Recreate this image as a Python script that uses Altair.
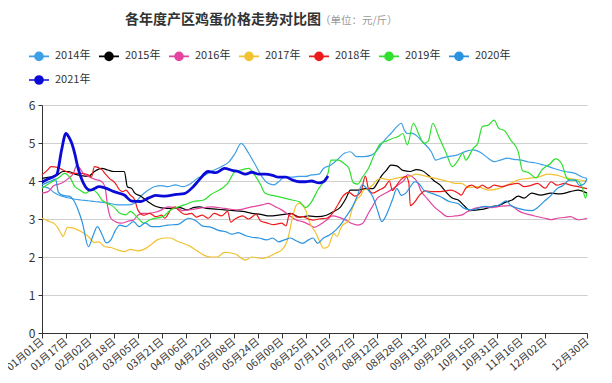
import altair as alt
import pandas as pd

FONT = "Noto Sans CJK SC"
TITLE = "各年度产区鸡蛋价格走势对比图"
UNIT = "（单位：元/斤）"

YEARS = ["2014年", "2015年", "2016年", "2017年", "2018年", "2019年", "2020年", "2021年"]
COLORS = ["#3d9fe6", "#000000", "#e2449f", "#f2c232", "#ec1c1c", "#2fe02f", "#2a93e0", "#0b0bd8"]

# (day of year index, price in 元/斤)
S2014 = [(0, 3.85), (4, 3.82), (8, 3.70), (12, 3.62), (17, 3.56), (22, 3.52), (26, 3.50), (31, 3.48), (35, 3.46),
         (40, 3.44), (44, 3.42), (49, 3.38), (53, 3.37), (58, 3.37), (62, 3.42), (66, 3.60), (71, 3.76), (75, 3.85),
         (80, 3.88), (84, 3.85), (89, 3.90), (94, 3.85), (98, 3.90), (104, 4.07), (109, 4.16), (113, 4.25), (120, 4.38),
         (125, 4.51), (129, 4.73), (133, 4.99), (138, 4.73), (142, 4.46), (147, 4.11), (151, 3.94), (155, 3.90),
         (158, 3.98), (162, 4.10), (167, 4.10), (171, 4.12), (176, 4.12), (180, 4.16), (185, 4.18), (188, 4.33),
         (193, 4.42), (197, 4.55), (202, 4.73), (206, 4.77), (210, 4.64), (215, 4.64), (220, 4.68), (224, 4.82),
         (227, 4.99), (231, 5.17), (233, 5.25), (237, 5.43), (240, 5.52), (242, 5.34), (244, 5.25), (247, 5.26),
         (250, 5.20), (255, 5.00), (260, 4.77), (263, 4.55), (267, 4.60), (271, 4.64), (277, 4.68), (283, 4.78),
         (288, 4.82), (293, 4.75), (298, 4.60), (302, 4.51), (306, 4.55), (311, 4.60), (315, 4.57), (320, 4.55),
         (325, 4.50), (329, 4.48), (335, 4.42), (342, 4.33), (349, 4.25), (356, 4.20), (360, 4.12), (364, 4.07)]
S2015 = [(0, 4.07), (5, 4.10), (10, 4.15), (14, 4.25), (18, 4.25), (22, 4.18), (26, 4.14), (31, 4.12), (35, 4.25),
         (40, 4.33), (44, 4.29), (48, 4.25), (55, 4.25), (57, 3.85), (60, 3.80), (62, 3.68), (66, 3.60), (71, 3.45),
         (75, 3.35), (79, 3.30), (83, 3.28), (88, 3.28), (92, 3.30), (97, 3.24), (101, 3.30), (105, 3.32), (110, 3.28),
         (116, 3.26), (122, 3.24), (128, 3.22), (134, 3.20), (140, 3.15), (146, 3.12), (152, 3.08), (158, 3.10),
         (162, 3.12), (166, 3.15), (172, 3.05), (178, 3.08), (184, 3.06), (190, 3.10), (195, 3.20), (199, 3.30),
         (203, 3.54), (206, 3.76), (211, 3.76), (216, 3.80), (221, 3.80), (224, 3.95), (227, 4.15), (230, 4.28),
         (233, 4.42), (237, 4.40), (241, 4.28), (246, 4.25), (250, 4.30), (254, 4.27), (258, 4.15), (262, 4.00),
         (266, 3.89), (270, 3.70), (274, 3.55), (278, 3.50), (282, 3.35), (286, 3.22), (291, 3.24), (295, 3.26),
         (300, 3.32), (306, 3.37), (310, 3.45), (314, 3.50), (318, 3.60), (322, 3.55), (327, 3.68), (333, 3.63),
         (340, 3.68), (346, 3.66), (353, 3.72), (358, 3.76), (364, 3.68)]
S2016 = [(0, 3.68), (4, 3.72), (8, 3.88), (13, 3.94), (17, 4.05), (21, 4.20), (23, 4.40), (25, 4.35), (28, 4.18),
         (31, 4.12), (35, 4.05), (40, 3.98), (42, 3.85), (44, 3.30), (46, 3.02), (49, 2.93), (53, 2.89), (58, 2.95),
         (61, 2.97), (64, 3.10), (67, 3.15), (71, 3.15), (75, 3.17), (80, 3.24), (84, 3.32), (89, 3.30), (94, 3.22),
         (98, 3.24), (105, 3.28), (113, 3.32), (122, 3.28), (131, 3.24), (140, 3.32), (147, 3.37), (151, 3.41),
         (156, 3.32), (160, 3.24), (165, 3.10), (170, 2.97), (174, 2.93), (178, 2.86), (182, 2.78), (186, 2.86),
         (190, 2.97), (194, 3.08), (198, 3.05), (203, 2.97), (207, 2.88), (211, 2.84), (214, 2.88), (218, 3.15),
         (221, 3.35), (224, 3.55), (228, 3.65), (233, 3.76), (238, 3.90), (242, 4.03), (244, 4.16), (247, 4.12),
         (251, 3.95), (253, 3.75), (257, 3.55), (262, 3.32), (266, 3.19), (271, 3.06), (276, 3.08), (280, 3.10),
         (284, 3.19), (289, 3.28), (295, 3.32), (300, 3.30), (307, 3.34), (313, 3.35), (318, 3.22), (322, 3.15),
         (327, 3.10), (331, 3.06), (336, 3.02), (340, 2.98), (344, 3.02), (349, 3.04), (353, 3.06), (358, 2.98),
         (364, 3.02)]
S2017 = [(0, 3.02), (4, 2.95), (9, 2.85), (13, 2.60), (14, 2.54), (17, 2.78), (21, 2.76), (26, 2.67), (31, 2.54),
         (35, 2.38), (38, 2.40), (42, 2.27), (46, 2.25), (51, 2.18), (55, 2.14), (59, 2.20), (64, 2.16), (68, 2.20),
         (72, 2.30), (77, 2.45), (82, 2.50), (86, 2.50), (90, 2.42), (95, 2.35), (99, 2.28), (104, 2.15), (108, 2.05),
         (113, 2.00), (117, 2.00), (122, 2.12), (129, 2.08), (136, 1.92), (140, 2.00), (147, 1.96), (151, 2.00),
         (156, 2.10), (160, 2.18), (164, 2.45), (166, 2.80), (168, 3.15), (170, 3.37), (172, 3.41), (176, 3.24),
         (179, 2.89), (183, 2.62), (186, 2.36), (188, 2.23), (191, 2.27), (195, 2.62), (197, 2.54), (200, 2.80),
         (205, 2.97), (207, 3.24), (210, 3.50), (213, 3.63), (215, 3.76), (218, 3.80), (221, 3.90), (224, 4.03),
         (227, 4.07), (232, 4.03), (236, 4.07), (241, 4.10), (245, 4.11), (250, 4.18), (254, 4.15), (258, 4.11),
         (263, 4.07), (267, 4.03), (272, 3.98), (276, 3.94), (280, 3.94), (285, 3.83), (291, 3.85), (298, 3.76),
         (305, 3.80), (312, 3.92), (318, 4.03), (325, 4.07), (332, 4.11), (338, 4.18), (343, 4.16), (350, 4.08),
         (357, 4.04), (364, 4.00)]
S2018 = [(0, 4.16), (4, 4.30), (6, 4.38), (11, 4.35), (16, 4.25), (20, 4.20), (26, 4.20), (31, 4.16), (33, 4.10),
         (35, 4.38), (40, 4.30), (42, 4.20), (45, 4.07), (49, 3.94), (52, 3.76), (54, 3.72), (56, 3.76), (59, 3.63),
         (62, 3.50), (64, 3.24), (68, 3.10), (72, 3.15), (76, 3.06), (80, 3.10), (82, 3.02), (86, 3.24), (89, 3.32),
         (91, 3.24), (96, 3.12), (100, 3.15), (103, 3.05), (107, 3.10), (111, 3.02), (115, 3.15), (120, 3.08),
         (124, 3.20), (126, 2.92), (129, 3.00), (134, 3.08), (138, 3.00), (143, 3.12), (146, 2.95), (150, 2.90),
         (155, 2.85), (160, 2.89), (163, 2.82), (165, 3.10), (167, 3.15), (170, 3.05), (174, 3.06), (178, 3.00),
         (181, 2.97), (185, 3.00), (190, 3.02), (194, 3.15), (198, 3.40), (201, 3.60), (205, 3.70), (209, 3.60),
         (213, 3.72), (216, 4.13), (218, 3.80), (221, 3.68), (225, 3.76), (229, 3.85), (232, 4.00), (234, 3.75),
         (237, 3.90), (240, 4.05), (243, 4.12), (245, 3.95), (246, 3.35), (249, 3.45), (252, 3.62), (256, 3.74),
         (261, 3.72), (266, 3.72), (273, 3.76), (278, 3.68), (280, 3.63), (283, 3.81), (287, 3.89), (291, 3.81),
         (294, 3.89), (298, 3.81), (302, 3.89), (307, 3.85), (311, 3.89), (318, 3.94), (322, 3.85), (327, 3.89),
         (331, 3.94), (336, 3.81), (340, 3.98), (344, 3.89), (349, 3.94), (353, 3.89), (358, 3.85), (364, 3.80)]
S2019 = [(0, 3.81), (5, 3.94), (12, 4.11), (15, 4.20), (19, 4.07), (22, 3.85), (25, 3.77), (29, 3.68), (33, 3.77),
         (37, 3.68), (40, 3.50), (43, 3.42), (48, 3.32), (52, 3.15), (56, 3.11), (59, 3.20), (63, 3.07), (68, 2.89),
         (72, 2.98), (81, 3.07), (86, 3.24), (91, 3.32), (95, 3.37), (101, 3.46), (108, 3.50), (113, 3.65), (120, 3.80),
         (124, 3.94), (129, 4.25), (134, 4.30), (138, 4.33), (142, 4.16), (146, 3.90), (149, 3.68), (154, 3.62),
         (158, 3.59), (162, 3.55), (167, 3.50), (172, 3.45), (176, 3.30), (180, 3.45), (184, 3.75), (188, 3.98),
         (191, 4.20), (193, 4.55), (198, 4.55), (202, 4.45), (205, 4.33), (208, 3.95), (211, 3.92), (214, 4.10),
         (218, 4.33), (222, 4.70), (226, 4.98), (230, 5.05), (234, 5.12), (238, 5.17), (241, 5.25), (244, 4.95),
         (248, 5.52), (252, 5.20), (255, 4.99), (258, 5.05), (261, 5.52), (265, 5.17), (270, 4.73), (274, 4.38),
         (278, 4.55), (281, 4.73), (283, 4.55), (288, 4.86), (291, 4.99), (294, 5.43), (298, 5.47), (302, 5.60),
         (305, 5.39), (309, 5.32), (313, 5.08), (318, 4.78), (321, 4.27), (325, 4.22), (330, 4.08), (334, 4.30),
         (339, 4.44), (343, 4.58), (347, 4.46), (351, 4.05), (355, 4.02), (358, 4.00), (361, 3.80), (363, 3.55),
         (364, 3.68)]
S2020 = [(0, 3.90), (3, 3.95), (6, 4.00), (9, 4.05), (11, 3.70), (14, 3.62), (18, 3.60), (21, 3.50), (24, 3.25),
         (27, 2.90), (31, 2.27), (34, 2.55), (37, 2.80), (40, 2.60), (43, 2.37), (46, 2.45), (49, 2.70), (52, 2.84),
         (56, 2.80), (61, 2.93), (65, 2.80), (69, 2.90), (73, 2.80), (78, 2.80), (84, 2.84), (91, 2.86), (98, 3.02),
         (103, 2.95), (107, 2.82), (113, 2.78), (118, 2.70), (123, 2.66), (127, 2.60), (131, 2.64), (136, 2.56),
         (140, 2.52), (145, 2.50), (150, 2.45), (154, 2.50), (158, 2.40), (162, 2.45), (166, 2.50), (170, 2.42),
         (174, 2.36), (178, 2.45), (181, 2.50), (184, 2.36), (188, 2.50), (192, 2.58), (196, 2.70), (200, 2.88),
         (203, 3.06), (207, 3.30), (210, 3.55), (214, 3.90), (217, 3.80), (221, 3.58), (224, 3.24), (227, 2.93),
         (231, 3.20), (234, 3.50), (237, 3.80), (240, 3.62), (243, 3.68), (246, 3.85), (249, 3.98), (252, 3.92),
         (255, 3.76), (260, 3.68), (266, 3.59), (272, 3.46), (278, 3.40), (282, 3.28), (287, 3.24), (291, 3.28),
         (296, 3.33), (300, 3.32), (306, 3.38), (310, 3.48), (313, 3.36), (318, 3.28), (322, 3.24), (327, 3.22),
         (331, 3.30), (335, 3.45), (340, 3.62), (344, 3.80), (348, 3.88), (352, 4.02), (356, 4.03), (359, 3.88),
         (362, 3.92), (364, 4.05)]
S2021 = [(0, 3.97), (4, 4.05), (8, 4.12), (10, 4.18), (13, 4.80), (16, 5.25), (18, 5.15), (20, 4.98), (22, 4.70),
         (24, 4.35), (26, 4.10), (29, 3.85), (32, 3.76), (35, 3.80), (38, 3.85), (42, 3.82), (48, 3.72), (55, 3.63),
         (60, 3.47), (66, 3.46), (71, 3.55), (76, 3.62), (82, 3.60), (90, 3.65), (95, 3.67), (101, 3.85), (105, 4.03),
         (111, 4.25), (116, 4.22), (122, 4.33), (127, 4.28), (131, 4.25), (136, 4.18), (140, 4.23), (145, 4.18),
         (149, 4.18), (154, 4.15), (158, 4.10), (163, 4.10), (167, 4.03), (172, 3.98), (176, 3.98), (180, 4.00),
         (185, 3.95), (188, 3.98), (191, 4.13)]

SERIES = [S2014, S2015, S2016, S2017, S2018, S2019, S2020, S2021]

TICK_DAYS = list(range(0, 337, 16)) + [364]
Y_TICKS = [0, 1, 2, 3, 4, 5, 6]

rows = []
for year, series in zip(YEARS, SERIES):
    for day, price in series:
        rows.append({"year": year, "day": day, "price": price})
df = pd.DataFrame(rows)

color_scale = alt.Scale(domain=YEARS, range=COLORS)

x_enc = alt.X(
    "day:Q",
    scale=alt.Scale(domain=[0, 364], nice=False, zero=False),
    axis=alt.Axis(
        values=TICK_DAYS,
        labelExpr="timeFormat(datetime(2020, 0, 1 + datum.value), '%m月%d日')",
        labelAngle=320, labelAlign="right", labelBaseline="middle",
        labelFont=FONT, labelFontSize=10.5, labelColor="#333333", labelPadding=2,
        labelOverlap=False, labelBound=False,
        title=None, grid=False, tickSize=5, tickColor="#333333",
        domainColor="#333333", domainWidth=1,
    ),
)
y_enc = alt.Y(
    "price:Q",
    scale=alt.Scale(domain=[0, 6], nice=False),
    axis=alt.Axis(
        values=Y_TICKS, format="d", title=None,
        grid=True, gridColor="#cfcfcf", gridWidth=1,
        tickSize=4, tickColor="#333333", domainColor="#333333",
        labelFont=FONT, labelFontSize=12, labelColor="#333333", labelPadding=3,
    ),
)

# line through a (stroke-filled) dot, as in the reference legend
LEGEND_SYMBOL = ("M-1,0L1,0"
                 "M0.4,0A0.4,0.4,0,1,1,-0.4,0A0.4,0.4,0,1,1,0.4,0"
                 "M0.26,0A0.26,0.26,0,1,1,-0.26,0A0.26,0.26,0,1,1,0.26,0"
                 "M0.12,0A0.12,0.12,0,1,1,-0.12,0A0.12,0.12,0,1,1,0.12,0")

legend = alt.Legend(
    title=None, orient="none", legendX=-14, legendY=-60,
    direction="horizontal", columns=7,
    symbolType=LEGEND_SYMBOL, symbolSize=400, symbolStrokeWidth=1.6,
    labelFont=FONT, labelFontSize=11, labelColor="#333333", labelOffset=5,
    columnPadding=4, rowPadding=5,
)

thin = alt.Chart(df).transform_filter(alt.datum.year != "2021年").mark_line(
    strokeWidth=1.2, interpolate="monotone"
).encode(
    x=x_enc, y=y_enc,
    color=alt.Color("year:N", scale=color_scale, legend=legend),
)

thick = alt.Chart(df).transform_filter(alt.datum.year == "2021年").mark_line(
    strokeWidth=2.8, interpolate="monotone"
).encode(
    x=x_enc, y=y_enc,
    color=alt.Color("year:N", scale=color_scale, legend=legend),
)

title_text = alt.Chart(pd.DataFrame({"t": [TITLE]})).mark_text(
    font=FONT, fontSize=14, fontWeight="bold", color="#333333", align="center", baseline="middle"
).encode(x=alt.value(181), y=alt.value(-85), text="t:N")

unit_text = alt.Chart(pd.DataFrame({"t": [UNIT]})).mark_text(
    font=FONT, fontSize=10.5, color="#999999", align="left", baseline="middle"
).encode(x=alt.value(278), y=alt.value(-84), text="t:N")

chart = alt.layer(thin, thick, title_text, unit_text).properties(
    width=545, height=228,
    autosize=alt.AutoSizeParams(type="none"),
    padding={"left": 34, "top": 97, "right": 17, "bottom": 43},
).configure_view(stroke=None)

chart.save("out.html", embed_options={"renderer": "svg", "actions": False})
